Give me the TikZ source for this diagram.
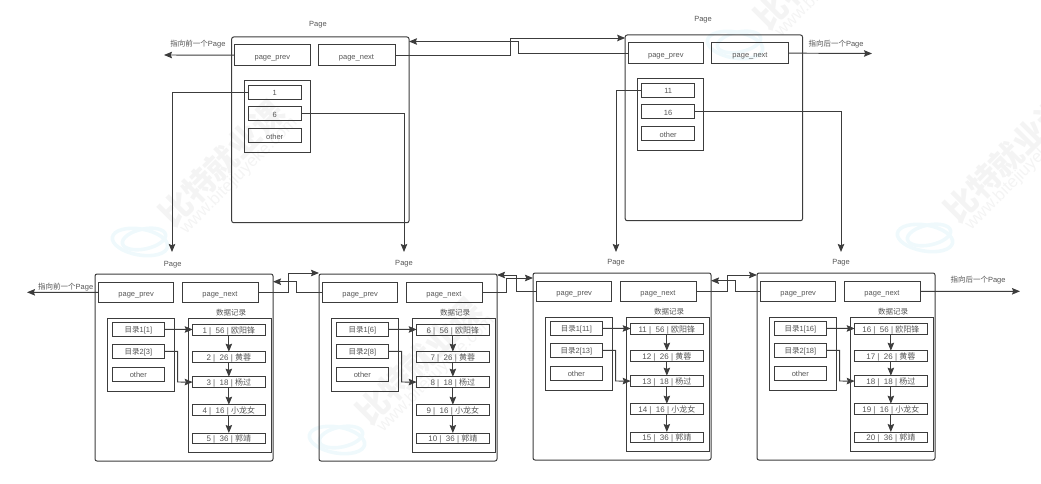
\documentclass[tikz,border=0pt]{standalone}
\usepackage{fontspec}
\setmainfont{Liberation Sans}
\newfontfamily\cjk{Noto Sans CJK SC}
\usetikzlibrary{arrows.meta,calc}
\definecolor{ln}{HTML}{3C3C3C}
\definecolor{tx}{HTML}{555555}
\definecolor{wmgrey}{HTML}{F4F4F4}
\definecolor{wmblue}{HTML}{EFF9FC}
\tikzset{
  boxstyle/.style={draw=ln,line width=1pt,inner sep=0pt,outer sep=0pt,text=tx,font=\fontsize{7.5}{9}\selectfont,text height=7pt,text depth=0pt},
  headbox/.style={boxstyle,text height=8.4pt},
  rowbox/.style={boxstyle,font=\fontsize{8}{9}\selectfont},
  pagebox/.style={boxstyle,rounded corners=2pt},
  lbl/.style={inner sep=0pt,outer sep=0pt,text=tx,font=\fontsize{7.5}{9}\selectfont,text height=6pt,text depth=2pt},
  arr/.style={draw=ln,line width=.95pt,-{Stealth[length=8pt,width=6.5pt,inset=1.2pt]}},
  wmcn/.style={inner sep=0pt,anchor=west,rotate=45,text=wmgrey,font=\cjk\bfseries\fontsize{32}{34}\selectfont},
  wmen/.style={inner sep=0pt,anchor=west,rotate=45,text=wmgrey,font=\fontsize{17}{19}\selectfont},
  ring/.style={draw=wmblue,line width=3.6pt}
}
% name, x1, y1, x2, y2, style, text
\newcommand{\Bx}[7]{\node[#6,minimum width={(#4-#2)*1pt},minimum height={(#5-#3)*1pt}] (#1) at ({(#2+#4)/2},{(#3+#5)/2}) {#7};}
\newcommand{\Mark}[3]{%
  \begin{scope}[shift={(#2,#3)}]
    \draw[ring] (0,0) ellipse [x radius=28pt,y radius=13pt,rotate=-10];
    \draw[ring] (4,-3) ellipse [x radius=22pt,y radius=10pt,rotate=12];
    \node[wmcn] (#1cn) at (25,-22) {比特就业课};
    \node[wmen] (#1en) at (43,-10) {www.bitejiuyeke.com};
  \end{scope}}
% top page: prefix, dx, dy, first, second
\newcommand{\TPage}[5]{%
  \begin{scope}[shift={(#2,#3)}]
    \Bx{#1}{231.7}{37}{409}{222.7}{pagebox}{}
    \Bx{#1prev}{234.7}{45}{310}{65.3}{headbox}{page\_prev}
    \Bx{#1next}{318}{45}{395}{65.3}{headbox}{page\_next}
    \Bx{#1dir}{244}{81}{310}{152.5}{boxstyle}{}
    \Bx{#1a}{248.3}{85.3}{301}{99.3}{boxstyle}{#4}
    \Bx{#1b}{248.3}{107}{301}{120.5}{boxstyle}{#5}
    \Bx{#1c}{248.3}{129}{301}{143}{boxstyle}{other}
  \end{scope}}
% bottom page: prefix, dx, dy, first record number
\newcommand{\BPage}[4]{%
  \begin{scope}[shift={(#2,#3)}]
    \Bx{#1}{95}{274}{273}{461}{pagebox}{}
    \Bx{#1prev}{98.7}{282}{173.7}{302.7}{headbox}{page\_prev}
    \Bx{#1next}{182}{282}{258}{302.7}{headbox}{page\_next}
    \Bx{#1dir}{107.3}{318.7}{174}{391}{boxstyle}{}
    \Bx{#1da}{112}{322.7}{164.7}{336}{boxstyle}{{\cjk 目录}1[\the\numexpr#4\relax]}
    \Bx{#1db}{112}{344.7}{164.7}{358}{boxstyle}{{\cjk 目录}2[\the\numexpr#4+2\relax]}
    \Bx{#1dc}{112}{367}{164.7}{381}{boxstyle}{other}
    \Bx{#1data}{188.7}{318.7}{271.7}{452}{boxstyle}{}
    \Bx{#1ra}{192.7}{324}{265}{335}{rowbox}{\the\numexpr#4\relax\ | \ 56 | {\cjk 欧阳锋}}
    \Bx{#1rb}{192.7}{351.7}{265}{362.7}{rowbox}{\the\numexpr#4+1\relax\ | \ 26 | {\cjk 黄蓉}}
    \Bx{#1rc}{192.7}{376.7}{265}{387.5}{rowbox}{\the\numexpr#4+2\relax\ | \ 18 | {\cjk 杨过}}
    \Bx{#1rd}{192.7}{404.7}{265}{415.7}{rowbox}{\the\numexpr#4+3\relax\ | \ 16 | {\cjk 小龙女}}
    \Bx{#1re}{192.7}{433}{265}{443.7}{rowbox}{\the\numexpr#4+4\relax\ | \ 36 | {\cjk 郭靖}}
    \node[lbl] (#1datalbl) at (231.2,313) {\cjk 数据记录};
    \coordinate (#1mid) at (177.7,382);
    \draw[arr] (#1da.east) -- (#1ra.west);
    \draw[arr] (#1db.east) -| (#1mid) -- (#1rc.west);
    \draw[arr] (#1ra.south) -- (#1rb.north);
    \draw[arr] (#1rb.south) -- (#1rc.north);
    \draw[arr] (#1rc.south) -- (#1rd.north);
    \draw[arr] (#1rd.south) -- (#1re.north);
  \end{scope}}
\begin{document}
\begin{tikzpicture}[x=1pt,y=-1pt]
  \useasboundingbox (0,0) rectangle (1041,484);
  \Mark{wa}{140}{242}
  \Mark{wb}{337}{440}
  \Mark{wc}{735}{45}
  \Mark{wd}{925}{238}

  \TPage{ta}{0}{0}{1}{6}
  \TPage{tb}{393.5}{-2}{11}{16}
  \BPage{pa}{0}{0}{1}
  \BPage{pb}{224}{0}{6}
  \BPage{pc}{438}{-1}{11}
  \BPage{pd}{662}{-1}{16}

  % page labels
  \node[lbl] (lta) at (318,25) {Page};
  \node[lbl] (ltb) at (703,20) {Page};
  \node[lbl] (lpa) at (172.7,264) {Page};
  \node[lbl] (lpb) at (404,263) {Page};
  \node[lbl] (lpc) at (616,262) {Page};
  \node[lbl] (lpd) at (841,262) {Page};

  % free ends and labels
  \coordinate (endtl) at (164,55);
  \coordinate (endtr) at (872,53.5);
  \coordinate (endbl) at (27,292.3);
  \coordinate (endbr) at (1020,291.3);
  \node[lbl] (ltl) at (198,45) {{\cjk 指向前一个}Page};
  \node[lbl] (ltr) at (836,45) {{\cjk 指向后一个}Page};
  \node[lbl] (lbl) at (65.7,287) {{\cjk 指向前一个}Page};
  \node[lbl] (lbr) at (978,280) {{\cjk 指向后一个}Page};
  \draw[arr] (taprev.west) -- (endtl);
  \draw[arr] (tbnext.east) -- (endtr);
  \draw[arr] (paprev.west) -- (endbl);
  \draw[arr] (pdnext.east) -- (endbr);

  % top page links
  \coordinate (u1) at (510,38);
  \coordinate (u2) at (518,41.5);
  \draw[arr] (tanext.east) -| (u1) -- (u1 -| tb.west);
  \draw[arr] (tbprev.west) -| (u2) -- (u2 -| ta.east);

  % top to bottom pages
  \coordinate (d1) at (172,252);
  \coordinate (d2) at (404,252);
  \coordinate (d3) at (616,252);
  \coordinate (d4) at (841,252);
  \draw[arr] (taa.west) -| (d1);
  \draw[arr] (tab.east) -| (d2);
  \draw[arr] (tba.west) -| (d3);
  \draw[arr] (tbb.east) -| (d4);

  % bottom page links
  \coordinate (e1) at (288,273);
  \coordinate (e2) at (296.7,281.7);
  \draw[arr] (panext.east) -| (e1) -- (e1 -| pb.west);
  \draw[arr] (pbprev.west) -| (e2) -- (e2 -| pa.east);
  \coordinate (e3) at (506.7,278);
  \coordinate (e4) at (516,275);
  \draw[arr] (pbnext.east) -| (e3) -- (e3 -| pc.west);
  \draw[arr] (pcprev.west) -| (e4) -- (e4 -| pb.east);
  \coordinate (e5) at (727,275);
  \coordinate (e6) at (735.5,280.7);
  \draw[arr] (pcnext.east) -| (e5) -- (e5 -| pd.west);
  \draw[arr] (pdprev.west) -| (e6) -- (e6 -| pc.east);
\end{tikzpicture}
\end{document}
